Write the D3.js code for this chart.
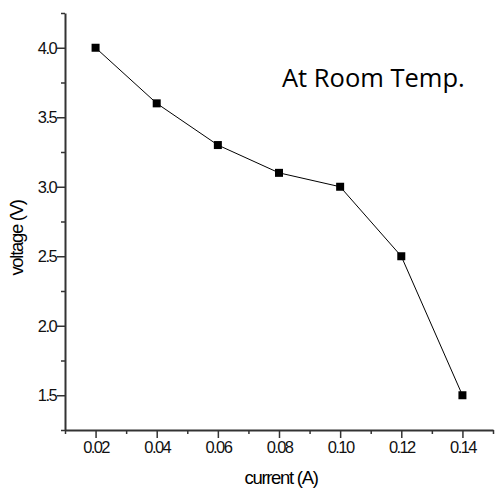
<!doctype html>
<html>
<head>
<script src="https://d3js.org/d3.v7.min.js"></script>
<style>
body { margin: 0; background: #fff; }
svg text { font-family: "Liberation Sans", Arial, sans-serif; }
</style>
</head>
<body>
<svg></svg>
<script>

// data
var current = [0.02, 0.04, 0.06, 0.08, 0.10, 0.12, 0.14];
var voltage = [4.0, 3.6, 3.3, 3.1, 3.0, 2.5, 1.5];
var xTicks = [0.02, 0.04, 0.06, 0.08, 0.10, 0.12, 0.14];
var xMinor = [0.01, 0.03, 0.05, 0.07, 0.09, 0.11, 0.13, 0.15];
var yTicks = [1.5, 2.0, 2.5, 3.0, 3.5, 4.0];
var yMinor = [1.25, 1.75, 2.25, 2.75, 3.25, 3.75, 4.25];

var W = 495, H = 489;
var mLeft = 65, mRight = 493, mTop = 13, mBottom = 430;

var svg = d3.select("svg").attr("width", W).attr("height", H);

var x = d3.scaleLinear().domain([0.01, 0.15]).range([mLeft, mRight]);
var y = d3.scaleLinear().domain([1.25, 4.25]).range([mBottom, mTop]);

// minor ticks
svg.append("g")
	.attr("transform", "translate(0," + mBottom + ")")
	.call(d3.axisBottom(x).tickValues(xMinor).tickSize(4).tickFormat(""))
	.call(g => g.select(".domain").remove());
svg.append("g")
	.attr("transform", "translate(" + mLeft + ",0)")
	.call(d3.axisLeft(y).tickValues(yMinor).tickSize(4).tickFormat(""))
	.call(g => g.select(".domain").remove());

// major axes
svg.append("g")
	.attr("transform", "translate(0," + mBottom + ")")
	.call(d3.axisBottom(x).tickValues(xTicks).tickSize(8).tickSizeOuter(0).tickPadding(3).tickFormat(d3.format(".2f")));
svg.append("g")
	.attr("transform", "translate(" + mLeft + ",0)")
	.call(d3.axisLeft(y).tickValues(yTicks).tickSize(8).tickSizeOuter(0).tickPadding(1).tickFormat(d3.format(".1f")));

svg.selectAll(".domain").attr("stroke", "#333").attr("stroke-width", 2);
svg.selectAll(".tick line").attr("stroke", "#333").attr("stroke-width", 1.5);
svg.selectAll(".tick text")
	.attr("fill", "#111")
	.style("font-size", "16.5px")
	.style("letter-spacing", "-1.6px");

// line + markers
var line = d3.line().x((d, i) => x(current[i])).y(d => y(d));
svg.append("path")
	.datum(voltage)
	.attr("d", line)
	.attr("fill", "none")
	.attr("stroke", "#000")
	.attr("stroke-width", 1);

svg.selectAll(".pt")
	.data(voltage)
	.enter().append("rect")
	.attr("class", "pt")
	.attr("x", (d, i) => x(current[i]) - 4)
	.attr("y", d => y(d) - 4)
	.attr("width", 8)
	.attr("height", 8)
	.attr("fill", "#000");

// labels
svg.append("text")
	.attr("x", 281).attr("y", 484)
	.attr("text-anchor", "middle")
	.style("font-size", "18.5px")
	.style("letter-spacing", "-1.3px")
	.text("current (A)");

svg.append("text")
	.attr("transform", "translate(23,238) rotate(-90)")
	.attr("text-anchor", "middle")
	.style("font-size", "18.5px")
	.style("letter-spacing", "-1.3px")
	.text("voltage (V)");

svg.append("text")
	.attr("x", 282).attr("y", 87)
	.style("font-family", "'Open Sans', sans-serif")
	.style("font-size", "25.5px")
	.text("At Room Temp.");

</script>
</body>
</html>
